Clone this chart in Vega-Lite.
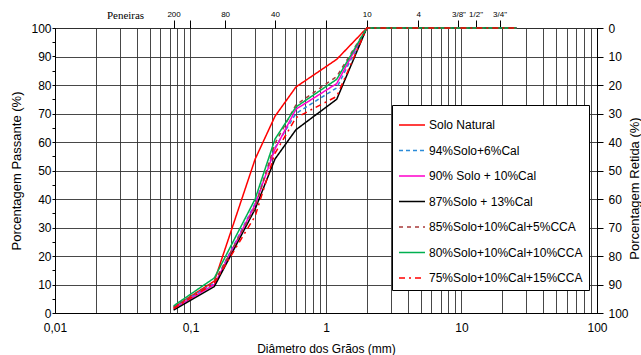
{
  "$schema": "https://vega.github.io/schema/vega-lite/v6.json",
  "width": 542,
  "height": 285,
  "autosize": "none",
  "padding": {"left": 55, "top": 28, "right": 44, "bottom": 42},
  "background": "white",
  "config": {
    "view": {"stroke": "#000", "strokeWidth": 1},
    "font": "Liberation Sans",
    "axis": {"labelColor": "#000", "titleColor": "#000", "domainColor": "#000", "tickColor": "#000", "titleFontWeight": "normal", "labelFont": "Liberation Sans", "titleFont": "Liberation Sans"}
  },
  "datasets": {
    "curvas": [
      {"s":"Solo Natural","d":0.075,"p":2},{"s":"Solo Natural","d":0.15,"p":11.2},{"s":"Solo Natural","d":0.3,"p":54},{"s":"Solo Natural","d":0.42,"p":69},{"s":"Solo Natural","d":0.6,"p":79.3},{"s":"Solo Natural","d":1.2,"p":89},{"s":"Solo Natural","d":2,"p":100},{"s":"Solo Natural","d":4.8,"p":100},{"s":"Solo Natural","d":9.5,"p":100},{"s":"Solo Natural","d":12.7,"p":100},{"s":"Solo Natural","d":19.1,"p":100},{"s":"Solo Natural","d":25.4,"p":100},
      {"s":"94%Solo+6%Cal","d":0.075,"p":2},{"s":"94%Solo+6%Cal","d":0.15,"p":10.5},{"s":"94%Solo+6%Cal","d":0.3,"p":38.5},{"s":"94%Solo+6%Cal","d":0.42,"p":58},{"s":"94%Solo+6%Cal","d":0.6,"p":70},{"s":"94%Solo+6%Cal","d":1.2,"p":79},{"s":"94%Solo+6%Cal","d":2,"p":100},{"s":"94%Solo+6%Cal","d":4.8,"p":100},{"s":"94%Solo+6%Cal","d":9.5,"p":100},{"s":"94%Solo+6%Cal","d":12.7,"p":100},{"s":"94%Solo+6%Cal","d":19.1,"p":100},{"s":"94%Solo+6%Cal","d":25.4,"p":100},
      {"s":"90% Solo + 10%Cal","d":0.075,"p":1.5},{"s":"90% Solo + 10%Cal","d":0.15,"p":10},{"s":"90% Solo + 10%Cal","d":0.3,"p":38},{"s":"90% Solo + 10%Cal","d":0.42,"p":57.5},{"s":"90% Solo + 10%Cal","d":0.6,"p":71.5},{"s":"90% Solo + 10%Cal","d":1.2,"p":80.5},{"s":"90% Solo + 10%Cal","d":2,"p":100},{"s":"90% Solo + 10%Cal","d":4.8,"p":100},{"s":"90% Solo + 10%Cal","d":9.5,"p":100},{"s":"90% Solo + 10%Cal","d":12.7,"p":100},{"s":"90% Solo + 10%Cal","d":19.1,"p":100},{"s":"90% Solo + 10%Cal","d":25.4,"p":100},
      {"s":"87%Solo + 13%Cal","d":0.075,"p":1},{"s":"87%Solo + 13%Cal","d":0.15,"p":9.3},{"s":"87%Solo + 13%Cal","d":0.3,"p":36.5},{"s":"87%Solo + 13%Cal","d":0.42,"p":54},{"s":"87%Solo + 13%Cal","d":0.6,"p":64.3},{"s":"87%Solo + 13%Cal","d":1.2,"p":75},{"s":"87%Solo + 13%Cal","d":2,"p":100},{"s":"87%Solo + 13%Cal","d":4.8,"p":100},{"s":"87%Solo + 13%Cal","d":9.5,"p":100},{"s":"87%Solo + 13%Cal","d":12.7,"p":100},{"s":"87%Solo + 13%Cal","d":19.1,"p":100},{"s":"87%Solo + 13%Cal","d":25.4,"p":100},
      {"s":"85%Solo+10%Cal+5%CCA","d":0.075,"p":2},{"s":"85%Solo+10%Cal+5%CCA","d":0.15,"p":11},{"s":"85%Solo+10%Cal+5%CCA","d":0.3,"p":37},{"s":"85%Solo+10%Cal+5%CCA","d":0.42,"p":59.5},{"s":"85%Solo+10%Cal+5%CCA","d":0.6,"p":73},{"s":"85%Solo+10%Cal+5%CCA","d":1.2,"p":83},{"s":"85%Solo+10%Cal+5%CCA","d":2,"p":100},{"s":"85%Solo+10%Cal+5%CCA","d":4.8,"p":100},{"s":"85%Solo+10%Cal+5%CCA","d":9.5,"p":100},{"s":"85%Solo+10%Cal+5%CCA","d":12.7,"p":100},{"s":"85%Solo+10%Cal+5%CCA","d":19.1,"p":100},{"s":"85%Solo+10%Cal+5%CCA","d":25.4,"p":100},
      {"s":"80%Solo+10%Cal+10%CCA","d":0.075,"p":2.5},{"s":"80%Solo+10%Cal+10%CCA","d":0.15,"p":12.3},{"s":"80%Solo+10%Cal+10%CCA","d":0.3,"p":40},{"s":"80%Solo+10%Cal+10%CCA","d":0.42,"p":61},{"s":"80%Solo+10%Cal+10%CCA","d":0.6,"p":72.3},{"s":"80%Solo+10%Cal+10%CCA","d":1.2,"p":82},{"s":"80%Solo+10%Cal+10%CCA","d":2,"p":100},{"s":"80%Solo+10%Cal+10%CCA","d":4.8,"p":100},{"s":"80%Solo+10%Cal+10%CCA","d":9.5,"p":100},{"s":"80%Solo+10%Cal+10%CCA","d":12.7,"p":100},{"s":"80%Solo+10%Cal+10%CCA","d":19.1,"p":100},{"s":"80%Solo+10%Cal+10%CCA","d":25.4,"p":100},
      {"s":"75%Solo+10%Cal+15%CCA","d":0.075,"p":1.5},{"s":"75%Solo+10%Cal+15%CCA","d":0.15,"p":10.5},{"s":"75%Solo+10%Cal+15%CCA","d":0.3,"p":34},{"s":"75%Solo+10%Cal+15%CCA","d":0.42,"p":56},{"s":"75%Solo+10%Cal+15%CCA","d":0.6,"p":68.5},{"s":"75%Solo+10%Cal+15%CCA","d":1.2,"p":76},{"s":"75%Solo+10%Cal+15%CCA","d":2,"p":100},{"s":"75%Solo+10%Cal+15%CCA","d":4.8,"p":100},{"s":"75%Solo+10%Cal+15%CCA","d":9.5,"p":100},{"s":"75%Solo+10%Cal+15%CCA","d":12.7,"p":100},{"s":"75%Solo+10%Cal+15%CCA","d":19.1,"p":100},{"s":"75%Solo+10%Cal+15%CCA","d":25.4,"p":100}
    ],
    "peneiras": [
      {"abertura": 0.075, "peneira": "200"},
      {"abertura": 0.18, "peneira": "80"},
      {"abertura": 0.42, "peneira": "40"},
      {"abertura": 2, "peneira": "10"},
      {"abertura": 4.8, "peneira": "4"},
      {"abertura": 9.5, "peneira": "3/8\""},
      {"abertura": 12.7, "peneira": "1/2\""},
      {"abertura": 19.1, "peneira": "3/4\""}
    ]
  },
  "layer": [
    {
      "data": {"name": "curvas"},
      "mark": {"type": "line", "strokeWidth": 1.5, "clip": false},
      "encoding": {
        "x": {
          "field": "d", "type": "quantitative",
          "scale": {"type": "log", "domain": [0.01, 100], "nice": false},
          "axis": {
            "orient": "bottom",
            "values": [0.01,0.02,0.03,0.04,0.05,0.06,0.07,0.08,0.09,0.1,0.2,0.3,0.4,0.5,0.6,0.7,0.8,0.9,1,2,3,4,5,6,7,8,9,10,20,30,40,50,60,70,80,90,100],
            "labelExpr": "datum.value == 0.01 ? '0,01' : datum.value == 0.1 ? '0,1' : datum.value == 1 ? '1' : datum.value == 10 ? '10' : datum.value == 100 ? '100' : ''",
            "grid": true, "gridColor": "#333", "gridOpacity": 0.9,
            "ticks": false, "tickSize": 0, "labelPadding": 9, "labelFontSize": 12,
            "labelFlush": false, "labelOverlap": false,
            "title": "Diâmetro dos Grãos (mm)", "titleFontSize": 12, "titleY": 35, "titleBaseline": "middle"
          }
        },
        "y": {
          "field": "p", "type": "quantitative",
          "scale": {"domain": [0, 100], "nice": false},
          "axis": {
            "orient": "left",
            "values": [0,5,10,15,20,25,30,35,40,45,50,55,60,65,70,75,80,85,90,95,100],
            "labelExpr": "datum.value % 10 == 0 ? datum.label : ''",
            "grid": false, "tickSize": 3, "labelPadding": 1, "labelFontSize": 12,
            "title": "Porcentagem Passante (%)", "titleFontSize": 13, "titleAngle": 270,
            "titleX": -39, "titleY": 142.5, "titleBaseline": "middle", "titleAlign": "center"
          }
        },
        "color": {
          "field": "s", "type": "nominal",
          "scale": {
            "domain": ["Solo Natural","94%Solo+6%Cal","90% Solo + 10%Cal","87%Solo + 13%Cal","85%Solo+10%Cal+5%CCA","80%Solo+10%Cal+10%CCA","75%Solo+10%Cal+15%CCA"],
            "range": ["#FF0000","#2B8BD8","#FF00CC","#000000","#A83A3A","#00B050","#FF0000"]
          },
          "legend": {"orient": "none", "legendX": 337, "legendY": 77, "title": null, "fillColor": "white", "strokeColor": "#000", "padding": 6, "symbolType": "stroke", "symbolSize": 676, "symbolStrokeWidth": 1.5, "labelFontSize": 12, "labelFont": "Liberation Sans", "labelColor": "#000", "rowPadding": 5.5, "labelOffset": 3, "labelLimit": 300}
        },
        "strokeDash": {
          "field": "s", "type": "nominal",
          "scale": {
            "domain": ["Solo Natural","94%Solo+6%Cal","90% Solo + 10%Cal","87%Solo + 13%Cal","85%Solo+10%Cal+5%CCA","80%Solo+10%Cal+10%CCA","75%Solo+10%Cal+15%CCA"],
            "range": [[1,0],[4,3],[1,0],[1,0],[4,4],[1,0],[6,4,2,4]]
          },
          "legend": {"orient": "none", "legendX": 337, "legendY": 77, "title": null, "fillColor": "white", "strokeColor": "#000", "padding": 6, "symbolType": "stroke", "symbolSize": 676, "symbolStrokeWidth": 1.5, "labelFontSize": 12, "labelFont": "Liberation Sans", "labelColor": "#000", "rowPadding": 5.5, "labelOffset": 3, "labelLimit": 300}
        }
      }
    },
    {
      "data": {"name": "peneiras"},
      "mark": {"type": "point", "opacity": 0},
      "encoding": {
        "x": {
          "field": "abertura", "type": "quantitative",
          "scale": {"type": "log", "domain": [0.01, 100], "nice": false},
          "axis": {
            "orient": "top",
            "values": [0.075, 0.1, 0.18, 0.42, 1, 2, 4.8, 9.5, 12.7, 19.1],
            "labelExpr": "datum.value == 0.075 ? '200' : datum.value == 0.18 ? '80' : datum.value == 0.42 ? '40' : datum.value == 2 ? '10' : datum.value == 4.8 ? '4' : datum.value == 9.5 ? '3/8\"' : datum.value == 12.7 ? '1/2\"' : datum.value == 19.1 ? '3/4\"' : ''",
            "grid": false, "domain": false, "tickSize": 8, "labelPadding": 2, "labelFontSize": 8,
            "labelFlush": false, "labelOverlap": false,
            "title": "Peneiras", "titleFont": "Liberation Serif", "titleFontSize": 11,
            "titleX": 70, "titleY": -13, "titleBaseline": "middle", "titleAlign": "center"
          }
        }
      }
    },
    {
      "data": {"name": "peneiras"},
      "mark": {"type": "point", "opacity": 0},
      "encoding": {
        "y": {
          "datum": 0, "type": "quantitative",
          "scale": {"domain": [0, 100], "reverse": true, "nice": false},
          "axis": {
            "orient": "right",
            "values": [0,10,20,30,40,50,60,70,80,90,100],
            "grid": true, "gridColor": "#333", "gridOpacity": 0.9,
            "tickSize": 6, "labelPadding": 5, "labelFontSize": 12,
            "title": "Porcentagem Retida (%)", "titleFontSize": 13, "titleAngle": 270,
            "titleX": 31, "titleY": 160, "titleBaseline": "top", "titleAlign": "center"
          }
        }
      }
    }
  ],
  "resolve": {"scale": {"y": "independent"}, "axis": {"x": "independent", "y": "independent"}}
}
